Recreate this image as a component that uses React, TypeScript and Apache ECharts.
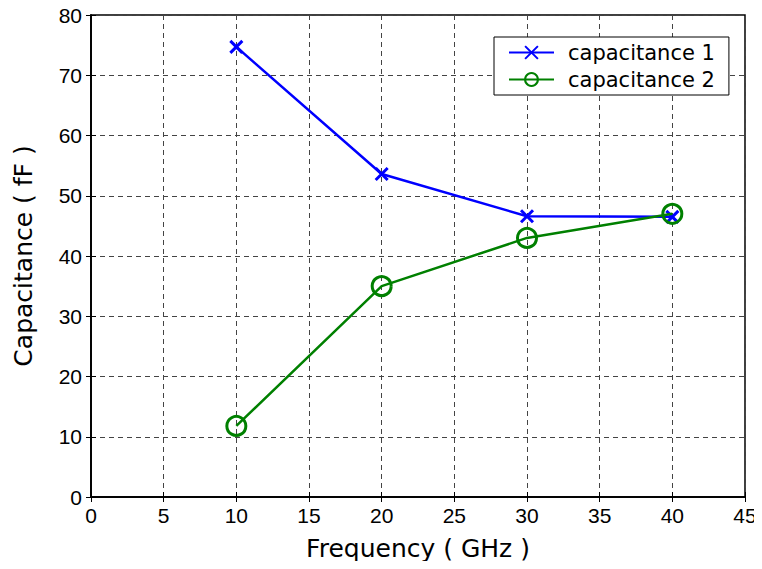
import React, { useEffect, useRef } from "react";
import * as echarts from "echarts";

const frequency = [10, 20, 30, 40];
const capacitance1 = [74.7, 53.6, 46.6, 46.5];
const capacitance2 = [11.8, 35.0, 43.0, 47.0];
const seriesNames = ["capacitance 1", "capacitance 2"];
const xTitle = "Frequency ( GHz )";
const yTitle = "Capacitance ( fF )";

const FONT = "'Liberation Sans', Arial, sans-serif";
const WIDE = "'DejaVu Sans', sans-serif";
const CROSS = "path://M0,0L10,10M10,0L0,10";

export default function App() {
  const ref = useRef<HTMLDivElement>(null);
  useEffect(() => {
    if (!ref.current) return;
    const chart = echarts.init(ref.current, null, { renderer: "svg" });
    const splitLine = { show: true, lineStyle: { color: "#444", type: [5, 4], width: 1 } };
    const axisLine = { show: true, lineStyle: { color: "#000", width: 1.5 } };
    const axisTick = { show: true, inside: true, length: 5, lineStyle: { color: "#000" } };
    chart.setOption({
      animation: false,
      backgroundColor: "#fff",
      textStyle: { fontFamily: FONT },
      grid: { left: 91, right: 17, top: 15, bottom: 72, show: true, borderColor: "#000", borderWidth: 1.5 },
      legend: {
        left: 494,
        top: 37,
        orient: "vertical",
        data: seriesNames,
        backgroundColor: "#fff",
        borderColor: "#000",
        borderWidth: 1,
        borderRadius: 0,
        padding: [5, 14, 5, 14],
        itemWidth: 45,
        itemHeight: 16,
        itemGap: 6,
        textStyle: { fontSize: 21, color: "#000", fontFamily: WIDE, padding: [0, 0, 0, 9] },
      },
      xAxis: [
        {
          type: "value",
          min: 0,
          max: 45,
          interval: 5,
          name: xTitle,
          nameLocation: "middle",
          nameGap: 39,
          nameTextStyle: { fontSize: 25, color: "#000", fontFamily: WIDE },
          axisLine,
          axisTick,
          axisLabel: { fontSize: 21, color: "#000", margin: 8, fontFamily: FONT },
          splitLine,
        },
        {
          type: "value",
          position: "top",
          min: 0,
          max: 45,
          interval: 5,
          axisLine,
          axisTick,
          axisLabel: { show: false },
          splitLine: { show: false },
        },
      ],
      yAxis: [
        {
          type: "value",
          min: 0,
          max: 80,
          interval: 10,
          name: yTitle,
          nameLocation: "middle",
          nameGap: 55,
          nameTextStyle: { fontSize: 25, color: "#000", fontFamily: WIDE },
          axisLine,
          axisTick,
          axisLabel: { fontSize: 21, color: "#000", margin: 9, fontFamily: FONT },
          splitLine,
        },
        {
          type: "value",
          position: "right",
          min: 0,
          max: 80,
          interval: 10,
          axisLine,
          axisTick,
          axisLabel: { show: false },
          splitLine: { show: false },
        },
      ],
      series: [
        {
          name: seriesNames[0],
          type: "line",
          data: frequency.map((f, i) => [f, capacitance1[i]]),
          symbol: CROSS,
          symbolSize: 12,
          showAllSymbol: true,
          lineStyle: { color: "#0000ff", width: 2.5 },
          itemStyle: { color: "#0000ff", borderColor: "#0000ff", borderWidth: 3 },
          z: 3,
        },
        {
          name: seriesNames[1],
          type: "line",
          data: frequency.map((f, i) => [f, capacitance2[i]]),
          symbol: "circle",
          symbolSize: 19,
          showAllSymbol: true,
          lineStyle: { color: "#008000", width: 2.5 },
          itemStyle: { color: "rgba(0,0,0,0)", borderColor: "#008000", borderWidth: 3 },
          z: 4,
        },
      ],
    });
    return () => chart.dispose();
  }, []);
  return <div ref={ref} style={{ width: 762, height: 569, margin: -8 }} />;
}
